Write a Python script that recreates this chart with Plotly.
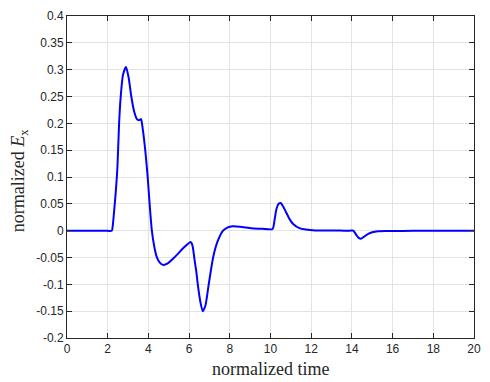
import plotly.graph_objects as go

# normalized time samples and field amplitude
t = [0, 0.5, 1.0, 1.5, 1.9, 2.2, 2.25, 2.32, 2.40, 2.48, 2.56, 2.64, 2.75,
     2.90, 3.03, 3.16, 3.30, 3.45, 3.55, 3.64, 3.72, 3.85, 3.96, 4.06, 4.17,
     4.29, 4.41, 4.55, 4.73, 4.95, 5.30, 5.78, 6.07, 6.12, 6.18, 6.26, 6.35,
     6.43, 6.55, 6.67, 6.80, 6.96, 7.18, 7.39, 7.67, 7.90, 8.12, 8.5, 9.08,
     9.6, 10.10, 10.20, 10.29, 10.40, 10.50, 10.62, 10.77, 10.93, 11.10,
     11.42, 11.74, 12.2, 12.8, 13.4, 13.9, 14.07, 14.2, 14.32, 14.44, 14.60,
     14.80, 15.0, 15.28, 15.7, 16.5, 17.5, 18.5, 19.5, 20]
ex = [0, 0, 0, 0, 0, 0, 0.01, 0.038, 0.074, 0.12, 0.20, 0.25, 0.29, 0.305,
      0.285, 0.25, 0.222, 0.207, 0.206, 0.208, 0.19, 0.148, 0.102, 0.05, 0.0,
      -0.03, -0.049, -0.059, -0.064, -0.061, -0.049, -0.030, -0.021, -0.023,
      -0.030, -0.052, -0.075, -0.101, -0.132, -0.150, -0.140, -0.101, -0.050,
      -0.021, 0.0, 0.006, 0.0083, 0.0075, 0.0046, 0.0035, 0.003, 0.02, 0.040,
      0.050, 0.0515, 0.045, 0.034, 0.022, 0.013, 0.0046, 0.002, 0.0005, 0.0002,
      0.0001, 0.0, 0.0, -0.007, -0.013, -0.015, -0.011, -0.006, -0.003, -0.001,
      -0.0005, -0.0004, -0.0003, -0.0002, -0.0002, -0.0002]

x_ticks = [0, 2, 4, 6, 8, 10, 12, 14, 16, 18, 20]
y_ticks = [0.4, 0.35, 0.3, 0.25, 0.2, 0.15, 0.1, 0.05, 0, -0.05, -0.1, -0.15, -0.2]
y_labels = ["0.4", "0.35", "0.3", "0.25", "0.2", "0.15", "0.1", "0.05", "0",
            "-0.05", "-0.1", "-0.15", "-0.2"]

fig = go.Figure()
fig.add_trace(go.Scatter(x=t, y=ex, mode="lines",
                         line=dict(color="#0000ff", width=2, shape="spline", smoothing=0.6),
                         showlegend=False))

axis_common = dict(showline=True, linecolor="#262626", linewidth=1, mirror="ticks",
                   ticks="inside", ticklen=5, tickcolor="#262626",
                   showgrid=True, gridcolor="#e3e3e3", gridwidth=1, zeroline=False,
                   tickfont=dict(family="Liberation Sans, Arial", size=12, color="#262626"))

fig.update_xaxes(range=[0, 20], tickvals=x_ticks, ticktext=[str(v) for v in x_ticks],
                 **axis_common)
fig.update_yaxes(range=[-0.2, 0.4], tickvals=y_ticks, ticktext=y_labels,
                 **axis_common)

fig.add_annotation(text="normalized time", xref="paper", yref="paper",
                   x=0.5, y=-0.095, xanchor="center", yanchor="middle", showarrow=False,
                   font=dict(family="Liberation Serif, Times New Roman, serif", size=18, color="#262626"))
fig.add_annotation(text="normalized <i>E</i><sub>x</sub>", xref="paper", yref="paper",
                   x=-0.118, y=0.49, xanchor="center", yanchor="middle", textangle=-90,
                   showarrow=False,
                   font=dict(family="Liberation Serif, Times New Roman, serif", size=18, color="#262626"))

fig.update_layout(width=490, height=382, margin=dict(l=67, r=9, t=14, b=44),
                  plot_bgcolor="white", paper_bgcolor="white")

fig.write_html("out.html")
